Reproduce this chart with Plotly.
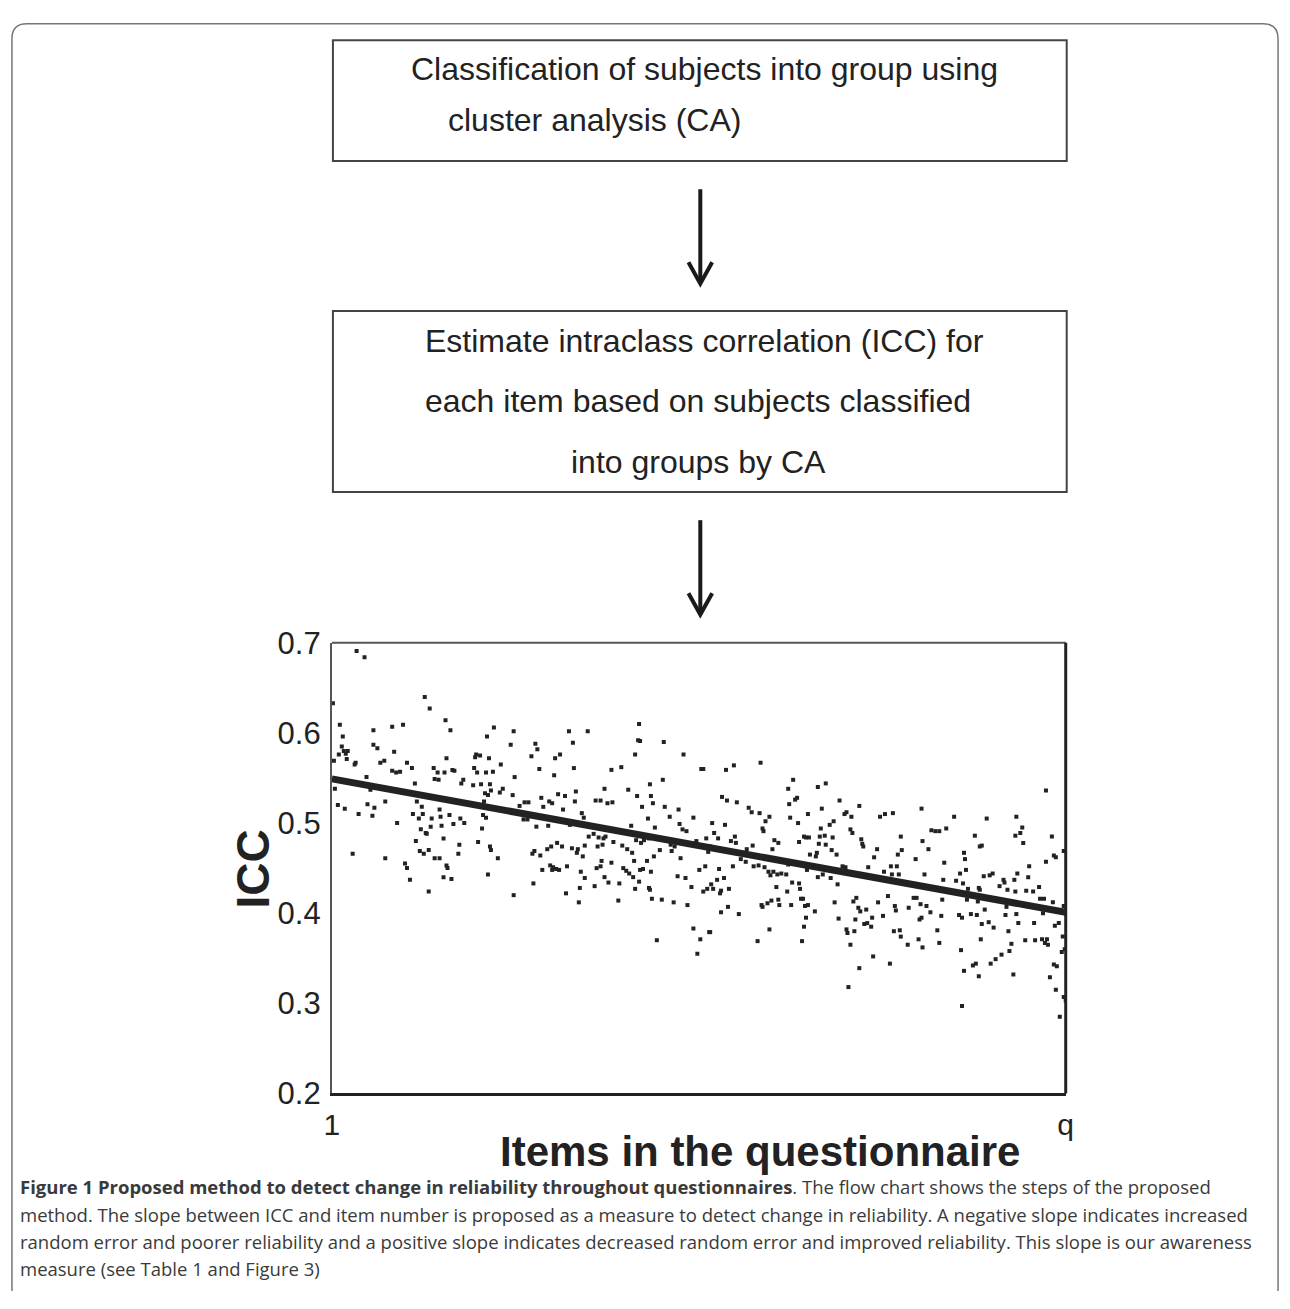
import plotly.graph_objects as go

# ---------------- data ----------------
# item number in questionnaire (1 .. q) and ICC value per item
items_a = [26,34,2,95,100,116,121,9,12,43, 62,73,11,13,15,17,8,3,16,25, 24,43,47,64,50,54,77,82,62,66,
           70,36,40,4,7,14,28,37,44,42, 55,85,87,92,83,89,93,102,110,111, 120,131,135,124,112,101,91,96,97,67,
           86,114,90,94,99,130,129,22,104,108, 115,105,109,123,125,117,132,134,
           55,75,77,80,105,110,117,118,114,122,99]
icc_a = [0.691,0.684,0.633,0.640,0.627,0.614,0.603,0.609,0.596,0.603, 0.607,0.609,0.585,0.580,0.577,0.580,0.576,0.569,0.571,0.567,
         0.565,0.587,0.583,0.579,0.567,0.569,0.567,0.561,0.558,0.556, 0.557,0.551,0.537,0.538,0.520,0.516,0.510,0.521,0.517,0.508,
         0.524,0.544,0.524,0.518,0.510,0.505,0.510,0.505,0.515,0.507, 0.509,0.505,0.500,0.499,0.497,0.496,0.493,0.489,0.488,0.500,
         0.480,0.483,0.469,0.466,0.470,0.476,0.466,0.466,0.561,0.556, 0.556,0.549,0.548,0.559,0.558,0.572,0.544,0.548,
         0.461,0.455,0.450,0.437,0.461,0.461,0.453,0.450,0.440,0.438,0.424]

items_b = [312,165,185,241,260,158,311,313,337,245, 207,182,209,147,151,232,308,357,203,146,
           160,227,172,145,211,246,294,284,375,377, 148,157,164,226,186,336,323,144,152,161,
           301,277,174,171,162,156,159,184,230,237, 248,310,324,213,221,224,196,200,247,268,
           273,280,285,326,155,191,315,338,215,235, 352,254,154,157,256,321,343,367,195,199,
           353,220,242,304,208,328,153,356,360,149, 261,266,271,276,278,309,317,322,380,229,
           161,275,286,223,234,244,250,257,270,295, 314,344,348,370,162,219,300,206,204,249,
           305,333,345,382]
icc_b = [0.610,0.606,0.602,0.602,0.602,0.596,0.592,0.591,0.590,0.589, 0.588,0.587,0.582,0.576,0.575,0.576,0.576,0.576,0.574,0.573,
         0.572,0.572,0.565,0.561,0.560,0.561,0.562,0.559,0.560,0.560, 0.556,0.556,0.557,0.553,0.551,0.548,0.543,0.542,0.543,0.543,
         0.537,0.538,0.538,0.534,0.536,0.533,0.531,0.531,0.532,0.530, 0.535,0.530,0.530,0.528,0.524,0.522,0.523,0.523,0.524,0.525,
         0.525,0.522,0.523,0.522,0.524,0.519,0.518,0.518,0.518,0.515, 0.515,0.511,0.509,0.506,0.506,0.505,0.507,0.506,0.504,0.504,
         0.499,0.497,0.498,0.497,0.496,0.495,0.494,0.493,0.491,0.479, 0.485,0.488,0.484,0.483,0.485,0.481,0.481,0.483,0.483,0.478,
         0.474,0.476,0.479,0.474,0.474,0.472,0.471,0.475,0.474,0.475, 0.478,0.476,0.474,0.480,0.470,0.471,0.471,0.469,0.466,0.467,
         0.467,0.470,0.469,0.468]

items_c = [169,159,185,205,212,214,222,225,228,224, 231,239,238,255,253,257,252,251,274,273,
           269,277,281,284,267,292,291,296,299,302, 307,306,308,312,313,316,320,324,322,323,
           325,327,335,347,354,351,359,365,361,330, 367,374,371,383,373,379,377,381]
icc_c = [0.461,0.443,0.420,0.433,0.464,0.448,0.453,0.451,0.449,0.448, 0.448,0.452,0.422,0.463,0.446,0.439,0.428,0.412,0.458,0.452,
         0.450,0.440,0.434,0.456,0.430,0.433,0.414,0.450,0.447,0.444, 0.458,0.440,0.427,0.435,0.448,0.449,0.458,0.446,0.428,0.426,
         0.416,0.463,0.415,0.412,0.461,0.441,0.439,0.429,0.409,0.370, 0.383,0.371,0.355,0.379,0.448,0.452,0.424,0.427]

items_d = [435,408,400,468,463,493,501,396,401,411, 470,472,464,515,535,423,426,434,444,465,
           483,497,520,522,527,556,561,569,598,386, 399,440,473,509,505,496,437,438,388,392,
           409,405,410,479,481,484,495,500,508,526, 528,537,538,539,577,599,608,612,449,453,
           474,494,501,427,421,447,507,553,578,605, 384,492]
icc_d = [0.567,0.564,0.559,0.548,0.538,0.540,0.544,0.529,0.525,0.523, 0.526,0.528,0.521,0.525,0.519,0.517,0.512,0.511,0.507,0.506,
         0.510,0.516,0.510,0.512,0.507,0.507,0.510,0.511,0.516,0.500, 0.498,0.502,0.500,0.502,0.498,0.494,0.494,0.491,0.489,0.483,
         0.485,0.480,0.478,0.485,0.484,0.484,0.485,0.486,0.484,0.493, 0.489,0.482,0.477,0.474,0.485,0.480,0.492,0.491,0.481,0.478,
         0.479,0.477,0.476,0.475,0.471,0.471,0.470,0.471,0.470,0.471, 0.474,0.467]

items_e = [393,407,398,391,385,387,395,403,394,415, 420,428,433,439,443,445,448,452,456,461,
           463,485,482,491,493,498,506,513,512,518, 521,544,550,560,567,573,568,575,574,592,
           601,451,467,474,475,462,476,478,480,483, 453,454,446,442,436,437,466,490,510,529,
           532,534,536,542,554,564,571,572,585,590, 593,597,603,607,402,395,413,444,432,477,
           481,479,514,522,523,531,530,543,540,548, 547,559,570,576,577,596,598,584,595,599,
           526,549,566,535,524,384]
icc_e = [0.449,0.452,0.439,0.437,0.432,0.427,0.425,0.427,0.422,0.460, 0.457,0.452,0.453,0.451,0.446,0.442,0.446,0.443,0.444,0.443,
         0.454,0.465,0.448,0.463,0.440,0.443,0.439,0.432,0.465,0.452, 0.451,0.451,0.462,0.446,0.452,0.452,0.443,0.443,0.465,0.460,
         0.443,0.429,0.434,0.433,0.427,0.424,0.416,0.416,0.408,0.409, 0.415,0.409,0.414,0.411,0.409,0.407,0.409,0.402,0.412,0.413,
         0.417,0.406,0.402,0.404,0.412,0.419,0.408,0.403,0.406,0.417, 0.417,0.410,0.408,0.401,0.407,0.401,0.399,0.382,0.369,0.369,
         0.395,0.385,0.394,0.382,0.378,0.393,0.380,0.389,0.388,0.395, 0.385,0.397,0.380,0.381,0.374,0.393,0.395,0.365,0.371,0.362,
         0.365,0.352,0.344,0.339,0.318,0.379]

items_f = [724,631,664,694,616,623,700,652,693,698, 730,657,659,701,641,742,
           642,621,637,643,640,620,633,645,619,644, 655,656,657,661,667,670,677,681,682,685,
           692,693,695,706,707,704,711,717,724,732, 734,684,662,618,636,639,648,654,683,694,
           659,666,671,696,712,721,731,737,733,614, 686,658,703,713,720,725,723,726,741,616,
           638,687,689,740,743,679,673,668,653,650, 641,656,691,732,735,728,734,742,744,639,
           738,718,722,742]
icc_f = [0.536,0.507,0.505,0.507,0.491,0.494,0.495,0.486,0.486,0.489, 0.485,0.474,0.475,0.478,0.467,0.469,
         0.460,0.456,0.444,0.448,0.433,0.437,0.436,0.427,0.415,0.415, 0.413,0.428,0.426,0.441,0.442,0.444,0.430,0.437,0.434,0.426,
         0.437,0.424,0.444,0.440,0.452,0.425,0.424,0.429,0.457,0.464, 0.462,0.407,0.404,0.397,0.398,0.395,0.399,0.398,0.398,0.399,
         0.388,0.390,0.384,0.389,0.389,0.400,0.412,0.389,0.386,0.381, 0.380,0.371,0.370,0.370,0.371,0.371,0.367,0.365,0.374,0.367,
         0.359,0.358,0.366,0.357,0.360,0.354,0.349,0.344,0.344,0.342, 0.336,0.330,0.332,0.343,0.341,0.329,0.315,0.307,0.303,0.297,
         0.285,0.416,0.416,0.408]

n_items = 744                       # "q"
trend_items = [1, n_items]          # fitted line end points
trend_icc = [0.549, 0.401]
y_ticks = [0.2, 0.3, 0.4, 0.5, 0.6, 0.7]
x_tick_labels = ["1", "q"]

box1_lines = ["Classification of subjects into group using", "cluster analysis (CA)"]
box2_lines = ["Estimate intraclass correlation (ICC) for",
              "each item based on subjects classified",
              "into groups by CA"]
caption_lines = [
    "<b>Figure 1 Proposed method to detect change in reliability throughout questionnaires</b>. "
    "The flow chart shows the steps of the proposed",
    "method. The slope between ICC and item number is proposed as a measure to detect change in reliability. "
    "A negative slope indicates increased",
    "random error and poorer reliability and a positive slope indicates decreased random error and improved "
    "reliability. This slope is our awareness",
    "measure (see Table 1 and Figure 3)",
]

items = items_a + items_b + items_c + items_d + items_e + items_f
icc = icc_a + icc_b + icc_c + icc_d + icc_e + icc_f
assert len(items) == len(icc)

# ---------------- figure ----------------
W, H = 1290, 1309
PX_L, PX_R, PX_T, PX_B = 328, 1071, 643, 1106   # plot frame in pixels


def fx(px):
    return px / W


def fy(py):
    return 1 - py / H


INK = "#222222"
FONT = "Liberation Sans, Arial, sans-serif"

fig = go.Figure()
fig.add_trace(go.Scatter(
    x=items, y=icc, mode="markers",
    marker=dict(symbol="square", size=4, color=INK, line=dict(width=0)),
    hoverinfo="skip"))
fig.add_trace(go.Scatter(
    x=trend_items, y=trend_icc, mode="lines",
    line=dict(color=INK, width=7), hoverinfo="skip"))

fig.update_layout(
    width=W, height=H,
    margin=dict(l=0, r=0, t=0, b=0),
    paper_bgcolor="white", plot_bgcolor="white",
    showlegend=False,
    font=dict(family=FONT, color=INK),
    xaxis=dict(domain=[fx(PX_L), fx(PX_R)], range=[1, n_items],
               tickvals=trend_items, ticktext=x_tick_labels,
               showgrid=False, zeroline=False, ticks="",
               showline=True, linecolor=INK, linewidth=3,
               tickfont=dict(size=30, family=FONT, color=INK),
               ticklabelstandoff=3),
    yaxis=dict(domain=[fy(PX_B), fy(PX_T)], range=[0.2, 0.7],
               tickvals=y_ticks, ticktext=[f"{v:.1f}" for v in y_ticks],
               showgrid=False, zeroline=False, ticks="",
               showline=True, linecolor="#555555", linewidth=2,
               tickfont=dict(size=31, family=FONT, color=INK),
               ticklabelstandoff=3),
)

shapes = []
# plot frame top and right edges
shapes.append(dict(type="line", xref="x domain", yref="y domain", x0=0, x1=1, y0=1, y1=1,
                   line=dict(color="#555555", width=2)))
shapes.append(dict(type="line", xref="x domain", yref="y domain", x0=1, x1=1, y0=0, y1=1,
                   line=dict(color=INK, width=3)))

# outer rounded border (open at the bottom)
border = (f"M {fx(4)},{fy(1309)} L {fx(4)},{fy(22)} Q {fx(4)},{fy(7)} {fx(19)},{fy(7)} "
          f"L {fx(1271)},{fy(7)} Q {fx(1286)},{fy(7)} {fx(1286)},{fy(22)} L {fx(1286)},{fy(1309)}")
shapes.append(dict(type="path", xref="paper", yref="paper", path=border,
                   line=dict(color="#777777", width=1.5)))

# flow chart boxes
for (x0, y0, x1, y1) in [(329, 24, 1072, 148), (329, 302, 1072, 488)]:
    shapes.append(dict(type="rect", xref="paper", yref="paper",
                       x0=fx(x0), x1=fx(x1), y0=fy(y1), y1=fy(y0),
                       line=dict(color="#444444", width=2), fillcolor="rgba(0,0,0,0)"))

# arrows
for (ys, ye) in [(177, 272), (517, 612)]:
    shapes.append(dict(type="line", xref="paper", yref="paper",
                       x0=fx(701), x1=fx(701), y0=fy(ys), y1=fy(ye),
                       line=dict(color="#1a1a1a", width=4)))
    head = (f"M {fx(689)},{fy(ye - 20)} L {fx(701)},{fy(ye + 2)} L {fx(713)},{fy(ye - 20)}")
    shapes.append(dict(type="path", xref="paper", yref="paper", path=head,
                       line=dict(color="#1a1a1a", width=4)))

fig.update_layout(shapes=shapes)

ann = []
for text, x, y in [(box1_lines[0], 406, 53), (box1_lines[1], 444, 106),
                   (box2_lines[0], 420, 333), (box2_lines[1], 420, 395), (box2_lines[2], 568, 457)]:
    ann.append(dict(text=text, x=fx(x), y=fy(y), xref="paper", yref="paper",
                    xanchor="left", yanchor="middle", showarrow=False,
                    font=dict(size=32, family=FONT, color=INK)))

ann.append(dict(text="<b>ICC</b>", x=fx(248), y=fy(875), xref="paper", yref="paper",
                textangle=-90, showarrow=False, xanchor="center", yanchor="middle",
                font=dict(size=46, family=FONT, color=INK)))
ann.append(dict(text="<b>Items in the questionnaire</b>", x=fx(761), y=fy(1166),
                xref="paper", yref="paper", showarrow=False, xanchor="center", yanchor="middle",
                font=dict(size=42, family=FONT, color=INK)))

for i, line in enumerate(caption_lines):
    ann.append(dict(text=line, x=fx(10), y=fy(1202 + 28 * i), xref="paper", yref="paper",
                    xanchor="left", yanchor="middle", showarrow=False,
                    font=dict(size=18.5, family="Open Sans, Noto Sans, sans-serif", color="#3a3a3a")))

fig.update_layout(annotations=ann)

fig.write_html("out.html", config={"displayModeBar": False},
               post_script="document.body.style.margin='0';document.body.style.overflow='hidden';")
